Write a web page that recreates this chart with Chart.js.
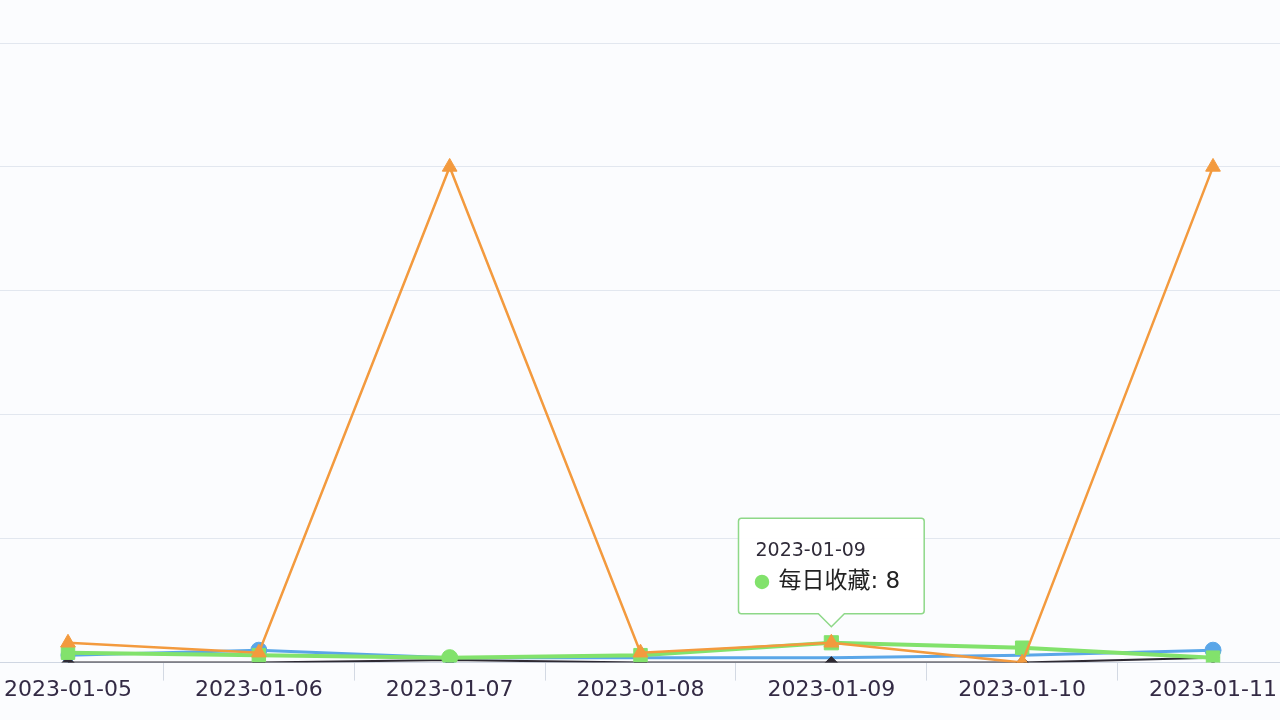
<!DOCTYPE html>
<html lang="zh-CN">
<head>
<meta charset="utf-8">
<title>每日数据</title>
<script src="https://cdn.jsdelivr.net/npm/chart.js@4.4.1/dist/chart.umd.min.js"></script>
<style>
    html, body { margin: 0; padding: 0; background: #fbfcfe; }
    #wrap { width: 1280px; height: 720px; position: relative; }
</style>
</head>
<body>
<div id="wrap"><canvas id="daily-chart"></canvas></div>
<script>
// === Données ===
const dates = ['2023-01-05', '2023-01-06', '2023-01-07', '2023-01-08', '2023-01-09', '2023-01-10', '2023-01-11'];
const readValues = [8, 4, 200, 4, 8, 0, 200];
const collectValues = [4, 3, 2, 3, 8, 6, 2];
const likeValues = [3, 5, 2, 2, 2, 3, 5];
const commentValues = [0, 0, 1, 0, 0, 0, 2];
const yTicks = [0, 50, 100, 150, 200, 250];

const FONT = '"DejaVu Sans", "Noto Sans CJK SC", sans-serif';

function toPoints(values) {
    return values.map((v, i) => ({ x: i, y: v }));
}

function series(label, values, color, style, radius, width, order) {
    return {
        label: label,
        data: toPoints(values),
        borderColor: color,
        backgroundColor: color,
        pointBackgroundColor: color,
        pointBorderColor: color,
        pointBorderWidth: 1,
        pointStyle: style,
        pointRadius: radius,
        borderWidth: width,
        tension: 0,
        order: order
    };
}

document.addEventListener('DOMContentLoaded', () => {
    const canvas = document.getElementById('daily-chart');

    const chart = new Chart(canvas, {
        type: 'line',
        data: {
            datasets: [
                series('每日评论', commentValues, '#2e2a33', 'rectRot', 6, 2, 3),
                series('每日点赞', likeValues, '#5aa6e8', 'circle', [7, 8, 7, 0, 0, 0, 8], 3, 4),
                series('每日收藏', collectValues, '#82e26c',
                    ['rect', 'rect', 'circle', 'rect', 'rect', 'rect', 'rect'],
                    [9.5, 9.5, 8, 9.5, 10, 9.5, 9.5], 4, 2),
                series('每日阅读', readValues, '#f39a3e', 'triangle', 8.5, 2.5, 1)
            ]
        },
        options: {
            responsive: true,
            maintainAspectRatio: false,
            animation: false,
            events: [],
            layout: { autoPadding: false, padding: { top: 43, left: 0, right: 0, bottom: 21 } },
            plugins: {
                legend: { display: false },
                tooltip: {
                    enabled: true,
                    backgroundColor: 'rgba(255,255,255,0.96)',
                    borderColor: '#8ed888',
                    borderWidth: 1.5,
                    cornerRadius: 3,
                    caretSize: 13,
                    caretPadding: 16,
                    xAlign: 'center',
                    yAlign: 'bottom',
                    padding: { top: 21, bottom: 18, left: 17, right: 24 },
                    titleColor: '#2f2a38',
                    bodyColor: '#222',
                    titleFont: { family: FONT, size: 19, weight: 'normal' },
                    bodyFont: { family: FONT, size: 23 },
                    titleMarginBottom: 6,
                    usePointStyle: true,
                    boxWidth: 13,
                    boxHeight: 13,
                    boxPadding: 8,
                    callbacks: {
                        title: items => dates[items[0].parsed.x],
                        label: item => item.dataset.label + ': ' + item.parsed.y,
                        labelPointStyle: () => ({ pointStyle: 'circle', rotation: 0 }),
                        labelColor: item => ({
                            borderColor: item.dataset.borderColor,
                            backgroundColor: item.dataset.borderColor
                        })
                    }
                }
            },
            scales: {
                x: {
                    type: 'linear',
                    min: -0.3563,
                    max: 6.351,
                    afterBuildTicks: axis => {
                        const ticks = [];
                        for (let i = 0; i < dates.length; i++) {
                            ticks.push({ value: i });
                            if (i < dates.length - 1) ticks.push({ value: i + 0.5 });
                        }
                        axis.ticks = ticks;
                    },
                    // pas de marge latérale : la grille va d'un bord à l'autre
                    afterFit: axis => {
                        axis.paddingLeft = 0;
                        axis.paddingRight = 0;
                    },
                    ticks: {
                        autoSkip: false,
                        maxRotation: 0,
                        padding: -4,
                        color: '#332a44',
                        font: { family: FONT, size: 22 },
                        callback: v => Number.isInteger(v) ? dates[v] : ''
                    },
                    grid: {
                        drawOnChartArea: false,
                        drawTicks: true,
                        tickLength: 18,
                        tickWidth: 1,
                        tickColor: ctx => (ctx.tick && !Number.isInteger(ctx.tick.value)) ? '#d3d9e3' : 'transparent'
                    },
                    border: { display: true, color: '#cfd6e2', width: 1 }
                },
                y: {
                    min: 0,
                    max: 250,
                    afterBuildTicks: axis => {
                        axis.ticks = yTicks.map(v => ({ value: v }));
                    },
                    afterFit: axis => { axis.width = 0; },
                    ticks: { display: false },
                    grid: { color: '#e2e7ef', lineWidth: 1, drawTicks: false },
                    border: { display: false }
                }
            }
        }
    });

    // === Infobulle fixe sur 2023-01-09 ===
    const idx = 4;
    const pt = chart.getDatasetMeta(2).data[idx];
    chart.tooltip.setActiveElements([{ datasetIndex: 2, index: idx }], { x: pt.x, y: pt.y });
    chart.update();
});
</script>
</body>
</html>
